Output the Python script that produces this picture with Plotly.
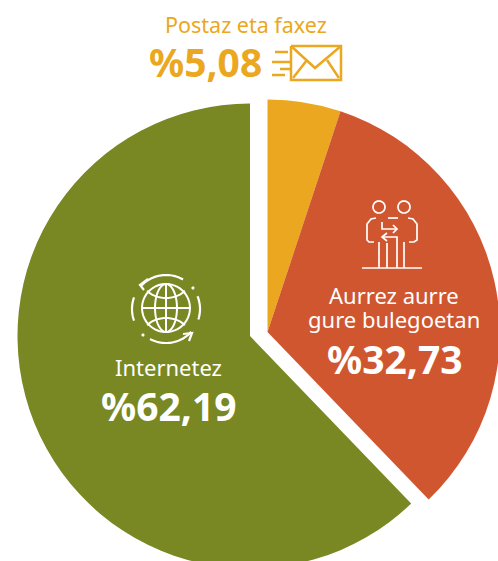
import numpy as np
import plotly.graph_objects as go

labels = ["Postaz eta faxez", "Aurrez aurre gure bulegoetan", "Internetez"]
values = [5.08, 32.73, 62.19]
colors = ["#EBA720", "#D05630", "#798822"]
value_text = ["%5,08", "%32,73", "%62,19"]

W, H = 520, 600  # figure runs a little past the 498x561 window, so the pie is cropped as in the reference
CLEAR = "rgba(0,0,0,0)"
FONT = "Noto Sans"


def dom(cx, cy, r):
    return dict(x=[(cx - r) / W, (cx + r) / W], y=[1 - (cy + r) / H, 1 - (cy - r) / H])


def pie(cs, cx, cy, r):
    return go.Pie(labels=labels, values=values, sort=False, direction="clockwise", rotation=0,
                  marker=dict(colors=cs, line=dict(width=0)), textinfo="none",
                  hoverinfo="skip", showlegend=False, domain=dom(cx, cy, r))


fig = go.Figure([
    pie([colors[0], colors[1], CLEAR], 267.5, 332, 232.5),
    pie([CLEAR, CLEAR, colors[2]], 250, 336, 232.5),
])


def P(pts):
    return "M" + "L".join(f"{x / W:.5f},{1 - y / H:.5f}" for x, y in pts)


def arc(cx, cy, rx, ry, a0, a1, n=32):
    t = np.radians(np.linspace(a0, a1, n))
    return [(cx + rx * np.cos(v), cy + ry * np.sin(v)) for v in t]


def stroke(path, color, width=1.7):
    fig.add_shape(type="path", xref="paper", yref="paper", path=path,
                  line=dict(color=color, width=width), layer="above")


def text(x, y, s, size, color, bold=False):
    fig.add_annotation(xref="paper", yref="paper", x=x / W, y=1 - y / H, text=f"<b>{s}</b>" if bold else s,
                       showarrow=False, xanchor="center", yanchor="middle",
                       font=dict(family=FONT, size=size, color=color))


# Envelope icon
Y = colors[0]
for path in [[(291, 46), (341, 46), (341, 80), (291, 80), (291, 46)],
             [(291, 46), (315, 68), (341, 46)],
             [(293, 78), (307, 60)], [(339, 78), (327, 60)],
             [(275, 52), (288, 52)], [(272, 62), (290, 62)],
             [(280, 69), (290, 69)], [(272, 75), (285, 75)]]:
    stroke(P(path), Y, 2.5)

# People icon
C = "white"
for a in [(379, 207), (404, 207)]:
    stroke(P(arc(a[0], a[1], 6, 6, 0, 360)), C)
for path in [[(362, 268), (422, 268)],
             [(379, 242), (379, 268)], [(387, 243), (387, 268)],
             [(397, 243), (397, 268)], [(404, 242), (404, 268)],
             [(374, 242), (369, 242), (367, 240), (367, 224), (371, 219), (376, 218)],
             [(409, 242), (414, 242), (417, 240), (417, 224), (413, 219), (408, 218)],
             [(388, 218), (398, 218)],
             [(382, 222), (382, 229), (397, 229)], [(393, 225), (397, 229), (393, 233)],
             [(397, 243), (397, 237), (382, 237)], [(387, 233), (382, 237), (387, 241)]]:
    stroke(P(path), C)

# Globe icon
gx, gy = 166, 308
stroke(P(arc(gx, gy, 24, 24, 0, 360, 48)), C, 2)
stroke(P(arc(gx, gy, 11, 24, 0, 360, 48)), C, 2)
stroke(P([(gx, gy - 24), (gx, gy + 24)]), C, 2)
stroke(P([(gx - 24, gy), (gx + 24, gy)]), C, 2)
stroke(P(arc(gx, gy - 27, 23, 17, 35, 145)), C, 2)
stroke(P(arc(gx, gy + 27, 23, 17, 215, 325)), C, 2)
stroke(P(arc(gx, gy + 1, 34, 34, 222, 300)), C, 2.2)
stroke(P([(148, 279), (140, 285), (144, 290)]), C, 2.2)
stroke(P(arc(gx, gy + 1, 34, 34, 42, 118)), C, 2.2)
stroke(P([(183, 334), (192, 333), (189, 341)]), C, 2.2)
stroke(P(arc(gx, gy + 1, 34, 34, 160, 200)), C, 2.2)
stroke(P(arc(gx, gy + 1, 34, 34, -22, 18)), C, 2.2)
stroke(P(arc(143, 335, 0.8, 0.8, 0, 360, 12)), C, 1.6)
stroke(P(arc(193, 288, 0.8, 0.8, 0, 360, 12)), C, 1.6)

text(246, 24, labels[0], 21.5, Y)
text(205, 62, value_text[0], 39, Y, True)
text(394, 295, "Aurrez aurre", 22, C)
text(394, 319, "gure bulegoetan", 22, C)
text(395, 358, value_text[1], 39, C, True)
text(168, 367, labels[2], 22, C)
text(168.5, 405, value_text[2], 39, C, True)

fig.update_layout(width=W, height=H, margin=dict(l=0, r=0, t=0, b=0), autosize=False,
                  paper_bgcolor="white", plot_bgcolor="white")
fig.write_html("out.html", config=dict(displayModeBar=False),
               post_script="document.body.style.margin='0';document.documentElement.style.overflow='hidden';document.body.style.overflow='hidden';")
